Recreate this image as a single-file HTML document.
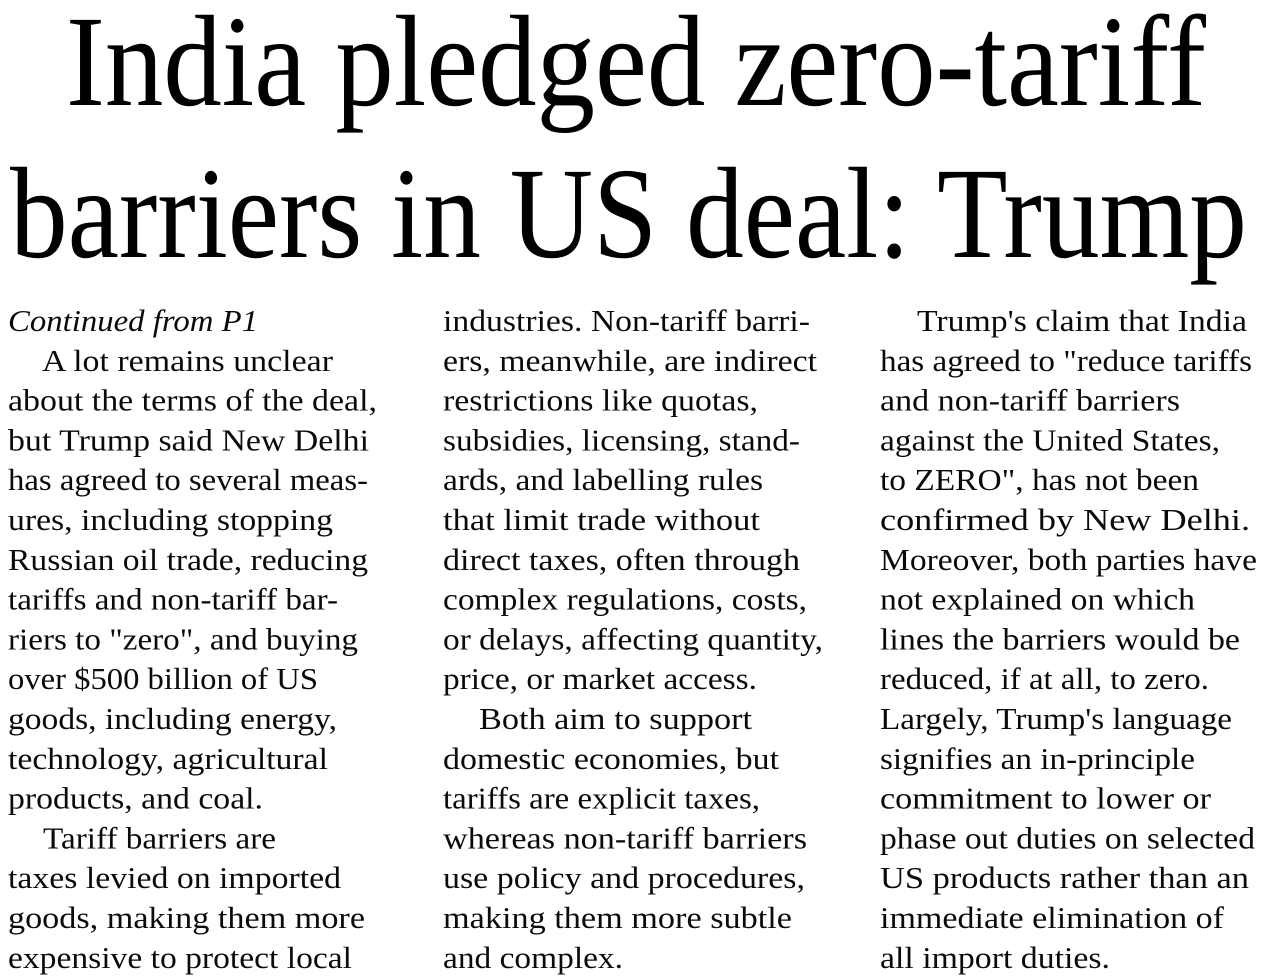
<!DOCTYPE html>
<html>
<head>
<meta charset="utf-8">
<style>
  html, body { margin: 0; padding: 0; background: #ffffff; }
  body { width: 1262px; height: 978px; overflow: hidden; }
  svg { display: block; }
  .h { font-family: "Liberation Serif", serif; font-size: 130px; fill: #000; }
  .b { font-family: "Liberation Serif", serif; font-size: 31px; fill: #0a0a0a; }
  .i { font-style: italic; }
</style>
</head>
<body>
<svg width="1262" height="978" viewBox="0 0 1262 978" xmlns="http://www.w3.org/2000/svg">
  <rect width="1262" height="978" fill="#ffffff"/>
  <!-- Headline -->
  <text class="h" x="66" y="105" textLength="1140" lengthAdjust="spacingAndGlyphs">India pledged zero-tariff</text>
  <text class="h" x="10" y="257" textLength="1237" lengthAdjust="spacingAndGlyphs">barriers in US deal: Trump</text>

  <!-- Column 1 -->
  <g class="b">
    <text class="i" x="8" y="331" textLength="250" lengthAdjust="spacingAndGlyphs">Continued from P1</text>
    <text x="42" y="370.8" textLength="291" lengthAdjust="spacingAndGlyphs">A lot remains unclear</text>
    <text x="8" y="410.6" textLength="369" lengthAdjust="spacingAndGlyphs">about the terms of the deal,</text>
    <text x="8" y="450.4" textLength="361" lengthAdjust="spacingAndGlyphs">but Trump said New Delhi</text>
    <text x="8" y="490.2" textLength="360" lengthAdjust="spacingAndGlyphs">has agreed to several meas-</text>
    <text x="8" y="530" textLength="325" lengthAdjust="spacingAndGlyphs">ures, including stopping</text>
    <text x="8" y="569.8" textLength="360" lengthAdjust="spacingAndGlyphs">Russian oil trade, reducing</text>
    <text x="8" y="609.6" textLength="330" lengthAdjust="spacingAndGlyphs">tariffs and non-tariff bar-</text>
    <text x="8" y="649.4" textLength="350" lengthAdjust="spacingAndGlyphs">riers to &quot;zero&quot;, and buying</text>
    <text x="8" y="689.2" textLength="310" lengthAdjust="spacingAndGlyphs">over $500 billion of US</text>
    <text x="8" y="729" textLength="329" lengthAdjust="spacingAndGlyphs">goods, including energy,</text>
    <text x="8" y="768.8" textLength="320" lengthAdjust="spacingAndGlyphs">technology, agricultural</text>
    <text x="8" y="808.6" textLength="255" lengthAdjust="spacingAndGlyphs">products, and coal.</text>
    <text x="43" y="848.4" textLength="233" lengthAdjust="spacingAndGlyphs">Tariff barriers are</text>
    <text x="8" y="888.2" textLength="333" lengthAdjust="spacingAndGlyphs">taxes levied on imported</text>
    <text x="8" y="928" textLength="357" lengthAdjust="spacingAndGlyphs">goods, making them more</text>
    <text x="8" y="967.8" textLength="344" lengthAdjust="spacingAndGlyphs">expensive to protect local</text>
  </g>

  <!-- Column 2 -->
  <g class="b">
    <text x="443" y="331" textLength="367" lengthAdjust="spacingAndGlyphs">industries. Non-tariff barri-</text>
    <text x="443" y="370.8" textLength="374" lengthAdjust="spacingAndGlyphs">ers, meanwhile, are indirect</text>
    <text x="443" y="410.6" textLength="315" lengthAdjust="spacingAndGlyphs">restrictions like quotas,</text>
    <text x="443" y="450.4" textLength="357" lengthAdjust="spacingAndGlyphs">subsidies, licensing, stand-</text>
    <text x="443" y="490.2" textLength="320" lengthAdjust="spacingAndGlyphs">ards, and labelling rules</text>
    <text x="443" y="530" textLength="317" lengthAdjust="spacingAndGlyphs">that limit trade without</text>
    <text x="443" y="569.8" textLength="357" lengthAdjust="spacingAndGlyphs">direct taxes, often through</text>
    <text x="443" y="609.6" textLength="364" lengthAdjust="spacingAndGlyphs">complex regulations, costs,</text>
    <text x="443" y="649.4" textLength="380" lengthAdjust="spacingAndGlyphs">or delays, affecting quantity,</text>
    <text x="443" y="689.2" textLength="314" lengthAdjust="spacingAndGlyphs">price, or market access.</text>
    <text x="479" y="729" textLength="273" lengthAdjust="spacingAndGlyphs">Both aim to support</text>
    <text x="443" y="768.8" textLength="336" lengthAdjust="spacingAndGlyphs">domestic economies, but</text>
    <text x="443" y="808.6" textLength="317" lengthAdjust="spacingAndGlyphs">tariffs are explicit taxes,</text>
    <text x="443" y="848.4" textLength="364" lengthAdjust="spacingAndGlyphs">whereas non-tariff barriers</text>
    <text x="443" y="888.2" textLength="362" lengthAdjust="spacingAndGlyphs">use policy and procedures,</text>
    <text x="443" y="928" textLength="349" lengthAdjust="spacingAndGlyphs">making them more subtle</text>
    <text x="443" y="967.8" textLength="180" lengthAdjust="spacingAndGlyphs">and complex.</text>
  </g>

  <!-- Column 3 -->
  <g class="b">
    <text x="917" y="331" textLength="330" lengthAdjust="spacingAndGlyphs">Trump's claim that India</text>
    <text x="880" y="370.8" textLength="372" lengthAdjust="spacingAndGlyphs">has agreed to &quot;reduce tariffs</text>
    <text x="880" y="410.6" textLength="300" lengthAdjust="spacingAndGlyphs">and non-tariff barriers</text>
    <text x="880" y="450.4" textLength="340" lengthAdjust="spacingAndGlyphs">against the United States,</text>
    <text x="880" y="490.2" textLength="319" lengthAdjust="spacingAndGlyphs">to ZERO&quot;, has not been</text>
    <text x="880" y="530" textLength="370" lengthAdjust="spacingAndGlyphs">confirmed by New Delhi.</text>
    <text x="880" y="569.8" textLength="377" lengthAdjust="spacingAndGlyphs">Moreover, both parties have</text>
    <text x="880" y="609.6" textLength="315" lengthAdjust="spacingAndGlyphs">not explained on which</text>
    <text x="880" y="649.4" textLength="360" lengthAdjust="spacingAndGlyphs">lines the barriers would be</text>
    <text x="880" y="689.2" textLength="329" lengthAdjust="spacingAndGlyphs">reduced, if at all, to zero.</text>
    <text x="880" y="729" textLength="352" lengthAdjust="spacingAndGlyphs">Largely, Trump's language</text>
    <text x="880" y="768.8" textLength="315" lengthAdjust="spacingAndGlyphs">signifies an in-principle</text>
    <text x="880" y="808.6" textLength="331" lengthAdjust="spacingAndGlyphs">commitment to lower or</text>
    <text x="880" y="848.4" textLength="375" lengthAdjust="spacingAndGlyphs">phase out duties on selected</text>
    <text x="880" y="888.2" textLength="369" lengthAdjust="spacingAndGlyphs">US products rather than an</text>
    <text x="880" y="928" textLength="344" lengthAdjust="spacingAndGlyphs">immediate elimination of</text>
    <text x="880" y="967.8" textLength="230" lengthAdjust="spacingAndGlyphs">all import duties.</text>
  </g>
</svg>
</body>
</html>
